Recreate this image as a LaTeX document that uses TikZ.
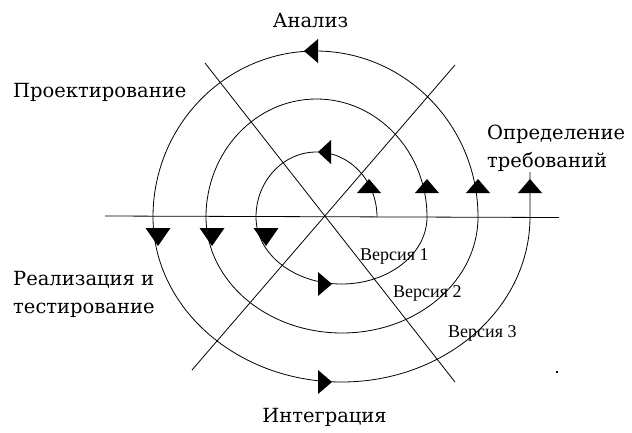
\documentclass[tikz,border=0pt]{standalone}
\usepackage{fontspec}
\newfontfamily\labfont{DejaVu Serif}
\newfontfamily\verfont{Liberation Serif}
\begin{document}
\begin{tikzpicture}[x=1pt,y=-1pt,
  line/.style={draw=black,line width=0.8pt},
  tri/.style={fill=black},
  lab/.style={inner sep=0pt,font=\labfont\fontsize{19.5}{20}\selectfont},
  ver/.style={inner sep=0pt,font=\verfont\fontsize{18}{18}\selectfont}]
\useasboundingbox[fill=white] (0,0) rectangle (632,432);
% axes
\coordinate (hl) at (105,216);
\coordinate (hr) at (559,217.5);
\coordinate (d1a) at (205,63);
\coordinate (d1b) at (455,382);
\coordinate (d2a) at (192,370);
\coordinate (d2b) at (455,65);
\draw[line] (hl) -- (hr);
\draw[line] (d1a) -- (d1b);
\draw[line] (d2a) -- (d2b);
% spiral
\coordinate (s0) at (377,217);
\draw[line] (s0)
  arc[start angle=0,end angle=180,x radius=60.5pt,y radius=65pt]
  arc[start angle=180,end angle=360,x radius=85.5pt,y radius=67pt]
  arc[start angle=0,end angle=180,x radius=110.5pt,y radius=118pt]
  arc[start angle=180,end angle=360,x radius=136pt,y radius=116pt]
  arc[start angle=0,end angle=180,x radius=162.5pt,y radius=166pt]
  arc[start angle=180,end angle=360,x radius=188.5pt,y radius=165pt]
  -- ++(0,-45);
% up arrows
\foreach \x in {369,427,478,530}
  \fill[tri] (\x,179) -- (\x+12,193) -- (\x-12,193) -- cycle;
% left arrows
\fill[tri] (304,51) -- (318,39) -- (318,63) -- cycle;
\fill[tri] (318,152) -- (331,140) -- (331,164) -- cycle;
% down arrows
\foreach \x in {266,212,158}
  \fill[tri] (\x,246) -- (\x-12.5,228) -- (\x+12.5,228) -- cycle;
% right arrows
\fill[tri] (332,284) -- (318,272) -- (318,296) -- cycle;
\fill[tri] (332,382) -- (318,370) -- (318,394) -- cycle;
% labels
\node[lab,anchor=base] (an) at (310.5,27) {Анализ};
\node[lab,anchor=base west] (pr) at (13,97) {Проектирование};
\node[lab,anchor=base west] (op1) at (487,139) {Определение};
\node[lab,anchor=base west] (op2) at (487,167) {требований};
\node[lab,anchor=base west] (re1) at (13,285) {Реализация и};
\node[lab,anchor=base west] (re2) at (13,313) {тестирование};
\node[lab,anchor=base] (in) at (324.5,422) {Интеграция};
\node[ver,anchor=base west] (v1) at (360,260) {Версия 1};
\node[ver,anchor=base west] (v2) at (393,297) {Версия 2};
\node[ver,anchor=base west] (v3) at (448,337) {Версия 3};
\fill[black] (556,371) rectangle (558,373);
\end{tikzpicture}
\end{document}
